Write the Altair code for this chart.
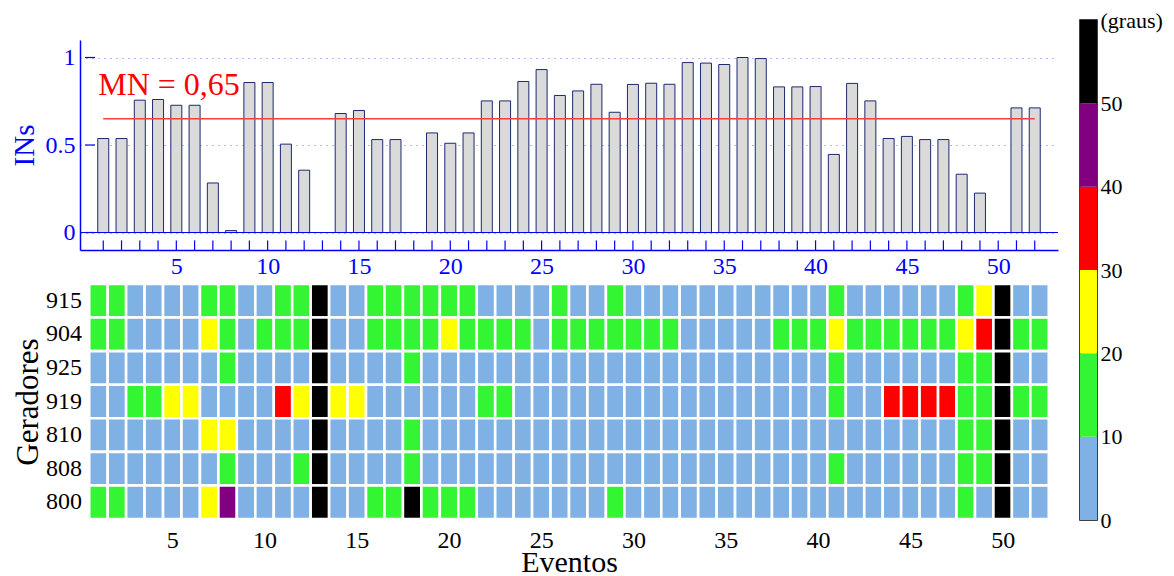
import altair as alt
import pandas as pd

SERIF = "Liberation Serif"

# ---------------- data ----------------
events = list(range(1, 53))
ins_values = [0.537, 0.537, 0.756, 0.760, 0.727, 0.727, 0.283, 0.011, 0.857, 0.857,
              0.505, 0.356, 0.0, 0.680, 0.697, 0.531, 0.531, 0.0, 0.569, 0.510,
              0.569, 0.752, 0.752, 0.863, 0.931, 0.783, 0.809, 0.847, 0.687, 0.846,
              0.853, 0.847, 0.971, 0.968, 0.960, 1.000, 0.994, 0.832, 0.832, 0.834,
              0.446, 0.852, 0.752, 0.537, 0.549, 0.531, 0.531, 0.333, 0.225, 0.0,
              0.712, 0.712]
mn_value = 0.65
mn_label = "MN = 0,65"
y_tick_values = [0, 0.5, 1]
x_label_values = [5, 10, 15, 20, 25, 30, 35, 40, 45, 50]

generators = ["915", "904", "925", "919", "810", "808", "800"]
# bin code per event: 0 = 0-10, 1 = 10-20, 2 = 20-30, 3 = 30-40, 4 = 40-50, 5 = >50 (graus)
g915 = [1, 1, 0, 0, 0, 0, 1, 1, 0, 0, 1, 1, 5, 0, 0, 1, 1, 1, 1, 1,
        1, 0, 0, 0, 0, 1, 0, 0, 1, 0, 0, 0, 0, 0, 0, 0, 0, 0, 0, 0,
        1, 0, 0, 0, 0, 0, 0, 1, 2, 5, 0, 0]
g904 = [1, 1, 0, 0, 0, 0, 2, 1, 0, 1, 1, 1, 5, 0, 0, 1, 1, 1, 1, 2,
        1, 1, 1, 1, 0, 1, 1, 1, 1, 1, 1, 1, 0, 0, 0, 0, 0, 1, 1, 1,
        2, 1, 1, 1, 1, 1, 1, 2, 3, 5, 1, 1]
g925 = [0, 0, 0, 0, 0, 0, 0, 1, 0, 0, 0, 0, 5, 0, 0, 0, 0, 1, 0, 0,
        0, 0, 0, 0, 0, 0, 0, 0, 0, 0, 0, 0, 0, 0, 0, 0, 0, 0, 0, 0,
        1, 0, 0, 0, 0, 0, 0, 1, 1, 5, 0, 0]
g919 = [0, 0, 1, 1, 2, 2, 0, 0, 0, 0, 3, 2, 5, 2, 2, 0, 0, 0, 0, 0,
        0, 1, 1, 0, 0, 0, 0, 0, 0, 0, 0, 0, 0, 0, 0, 0, 0, 0, 0, 0,
        1, 0, 0, 3, 3, 3, 3, 1, 1, 5, 1, 1]
g810 = [0, 0, 0, 0, 0, 0, 2, 2, 0, 0, 0, 0, 5, 0, 0, 0, 0, 1, 0, 0,
        0, 0, 0, 0, 0, 0, 0, 0, 0, 0, 0, 0, 0, 0, 0, 0, 0, 0, 0, 0,
        0, 0, 0, 0, 0, 0, 0, 1, 1, 5, 0, 0]
g808 = [0, 0, 0, 0, 0, 0, 0, 1, 0, 0, 0, 1, 5, 0, 0, 0, 0, 1, 0, 0,
        0, 0, 0, 0, 0, 0, 0, 0, 0, 0, 0, 0, 0, 0, 0, 0, 0, 0, 0, 0,
        1, 0, 0, 0, 0, 0, 0, 1, 1, 5, 0, 0]
g800 = [1, 1, 0, 0, 0, 0, 2, 4, 0, 0, 0, 0, 5, 0, 0, 1, 1, 5, 1, 1,
        1, 0, 0, 0, 0, 0, 0, 0, 1, 0, 0, 0, 0, 0, 0, 0, 0, 0, 0, 0,
        0, 0, 0, 0, 0, 0, 0, 1, 0, 5, 0, 0]
gen_rows = [g915, g904, g925, g919, g810, g808, g800]

bin_codes = [0, 1, 2, 3, 4, 5]
bin_lo = [0, 10, 20, 30, 40, 50]
bin_hi = [10, 20, 30, 40, 50, 60]
bin_colors = ["#80b1e5", "#33f533", "#ffff00", "#ff0000", "#800080", "#000000"]
cb_tick_values = [0, 10, 20, 30, 40, 50, 60]
cb_unit = "(graus)"

# ---------------- tables ----------------
top_df = pd.DataFrame({"ev": events, "ins": ins_values})
mn_df = pd.DataFrame({"x1": [events[0]], "x2": [events[-1]], "mn": [mn_value], "label": [mn_label]})
ytick_df = pd.DataFrame({"v": y_tick_values})
heat_df = pd.DataFrame(
    [{"gen": g, "ev": e, "code": c} for g, row in zip(generators, gen_rows) for e, c in zip(events, row)]
)
cb_df = pd.DataFrame({"lo": bin_lo, "hi": bin_hi, "code": bin_codes})

BLUE = "#0000ff"
W = 978
xs = alt.Scale(domain=[0, 53], nice=False, zero=False)
ys = alt.Scale(domain=[-0.1, 1.1], nice=False, zero=False)

bars = alt.Chart(top_df).mark_bar(size=11, fill="#dadada", stroke="#1c2a6e", strokeWidth=1).encode(
    x=alt.X("ev:Q", scale=xs, axis=alt.Axis(
        title=None, values=x_label_values, ticks=False, grid=False,
        domainColor=BLUE, domainWidth=1.5, labelColor=BLUE, labelFontSize=24,
        labelFont=SERIF, labelPadding=4)),
    y=alt.Y("ins:Q", scale=ys, axis=alt.Axis(
        title="INs", values=y_tick_values, labelExpr="toString(datum.value)",
        ticks=False, grid=True, gridColor="#7070ff", gridDash=[1, 5], gridWidth=1,
        domainColor=BLUE, domainWidth=1.5, labelColor=BLUE, labelFontSize=24,
        labelFont=SERIF, labelPadding=5, titleColor=BLUE, titleFontSize=29,
        titleFont=SERIF, titleFontWeight="normal", titlePadding=6)),
    y2=alt.datum(0),
)

zero_line = alt.Chart(ytick_df).transform_filter("datum.v == 0").mark_rule(
    color=BLUE, strokeWidth=1.2).encode(y=alt.Y("v:Q", scale=ys, title="INs"))

ytick_rules = alt.Chart(ytick_df).mark_rule(color=BLUE, strokeWidth=1.2).encode(
    y=alt.Y("v:Q", scale=ys, title="INs"), x=alt.datum(0), x2=alt.datum(0.55))

xtick_rules = alt.Chart(top_df).mark_rule(color=BLUE, strokeWidth=1.2).encode(
    x=alt.X("ev:Q", scale=xs, title=None), y=alt.datum(-0.1), y2=alt.datum(-0.045))

mn_rule = alt.Chart(mn_df).mark_rule(color="#ff3b3b", strokeWidth=1.4).encode(
    x=alt.X("x1:Q", scale=xs, title=None), x2="x2:Q", y=alt.Y("mn:Q", scale=ys, title="INs"))

mn_text = alt.Chart(mn_df).mark_text(
    align="left", baseline="alphabetic", dx=-5, dy=-24, font=SERIF, fontSize=32, color="#ff0000"
).encode(x=alt.X("x1:Q", scale=xs, title=None), y=alt.Y("mn:Q", scale=ys, title="INs"), text="label:N")

top = alt.layer(bars, zero_line, ytick_rules, xtick_rules, mn_rule, mn_text).properties(
    width=W, height=210)

# empty spacer so the colour bar can start above the bar chart
spacer = alt.Chart(mn_df).mark_point(opacity=0).properties(width=W, height=16)

heat = alt.Chart(heat_df).transform_calculate(
    x0="datum.ev - 0.5", x1="datum.ev + 0.5"
).mark_rect(stroke="white", strokeWidth=2.6).encode(
    x=alt.X("x0:Q", scale=xs, axis=alt.Axis(
        title="Eventos", values=x_label_values, ticks=False, domain=False, grid=False,
        labelColor="black", labelFontSize=24, labelFont=SERIF, labelPadding=9,
        titleFontSize=30, titleFont=SERIF, titleFontWeight="normal", titlePadding=-5,
        titleColor="black")),
    x2="x1:Q",
    y=alt.Y("gen:N", sort=generators, axis=alt.Axis(
        title="Geradores", ticks=False, domain=False, labelColor="black",
        labelFontSize=24, labelFont=SERIF, labelPadding=-1.5, titleFontSize=31,
        titleFont=SERIF, titleFontWeight="normal", titlePadding=1, titleColor="black")),
    color=alt.Color("code:O", scale=alt.Scale(domain=bin_codes, range=bin_colors), legend=None),
).properties(width=W, height=235)

cb = alt.Chart(cb_df).mark_rect().encode(
    x=alt.value(0), x2=alt.value(17),
    y=alt.Y("lo:Q", scale=alt.Scale(domain=[0, 60], nice=False, zero=False), axis=alt.Axis(
        orient="right", title=None, values=cb_tick_values,
        labelExpr=f"datum.value == 60 ? '{cb_unit}' : datum.label",
        ticks=False, domain=False, grid=False, labelColor="black", labelFontSize=22,
        labelFont=SERIF, labelPadding=3, labelFlush=False, labelOverlap=False)),
    y2="hi:Q",
    color=alt.Color("code:O", scale=alt.Scale(domain=bin_codes, range=bin_colors), legend=None),
).properties(width=17, height=500, view=alt.ViewBackground(stroke="black", strokeWidth=1.5))

left = alt.vconcat(spacer, top, heat, spacing=4)
chart = alt.hconcat(left, cb, spacing=20).properties(
    padding={"left": 2, "top": 0, "right": 0, "bottom": 0}
).configure(font=SERIF).configure_view(strokeWidth=0)

chart.save("out.html", embed_options={"renderer": "svg", "actions": False})
